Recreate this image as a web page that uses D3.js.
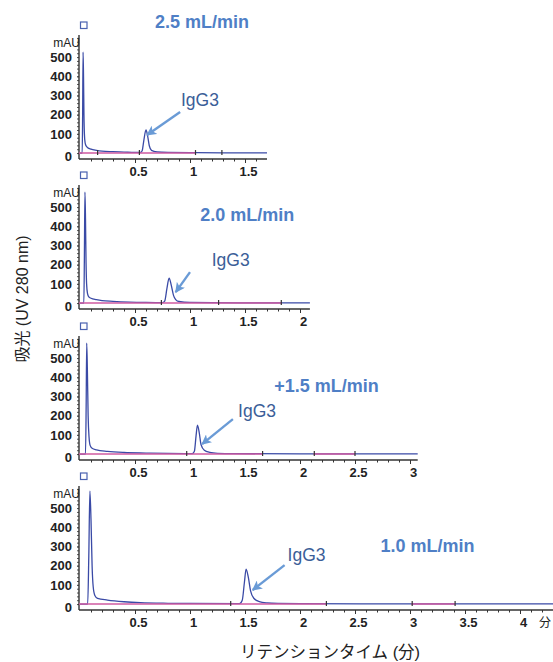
<!DOCTYPE html>
<html>
<head>
<meta charset="utf-8">
<script src="https://cdn.jsdelivr.net/npm/d3@7"></script>
<style>
  body { margin: 0; background: #fff; }
  .tick text { font-family: "Liberation Sans", Arial, sans-serif; font-weight: bold; font-size: 13px; fill: #222; }
</style>
</head>
<body>
<div id="chart"></div>
<script>
// flow rates, one panel each
var flowLabels = ["2.5 mL/min", "2.0 mL/min", "+1.5 mL/min", "1.0 mL/min"];
var xMax = [1.7, 2.09, 3.07, 4.33];
var xTickLabels = [
  ["0.5", "1", "1.5"],
  ["0.5", "1", "1.5", "2"],
  ["0.5", "1", "1.5", "2", "2.5", "3"],
  ["0.5", "1", "1.5", "2", "2.5", "3", "3.5", "4"]
];
var yTicks = [0, 100, 200, 300, 400, 500];

// chromatograms [min, mAU]
var trace25 = [[0,0],[0.02,0],[0.024,200],[0.028,526],[0.032,400],[0.036,200],[0.04,100],[0.046,55],[0.055,38],[0.07,28],[0.1,20],[0.15,14],[0.2,10],[0.3,7],[0.4,5],[0.5,3],[0.55,3],[0.565,12],[0.58,65],[0.6,120],[0.615,88],[0.63,38],[0.65,14],[0.7,6],[0.8,3],[1.0,2],[1.3,1],[1.7,1]];
var trace20 = [[0,0],[0.035,0],[0.04,250],[0.045,578],[0.05,440],[0.055,210],[0.06,100],[0.068,50],[0.08,32],[0.1,25],[0.15,18],[0.2,13],[0.3,9],[0.45,5],[0.6,3],[0.75,2],[0.77,10],[0.79,75],[0.81,130],[0.83,92],[0.85,40],[0.87,18],[0.9,8],[1.0,3],[1.2,2],[1.6,1],[2.09,1]];
var trace15 = [[0,0],[0.05,0],[0.056,250],[0.061,578],[0.067,440],[0.074,200],[0.082,90],[0.092,45],[0.11,30],[0.15,22],[0.25,14],[0.4,8],[0.6,5],[0.8,3],[1.02,2],[1.04,15],[1.055,95],[1.068,151],[1.085,108],[1.1,50],[1.13,20],[1.18,9],[1.25,4],[1.4,2],[2.0,1],[3.07,1]];
var trace10 = [[0,0],[0.07,0],[0.08,250],[0.09,588],[0.1,440],[0.11,200],[0.12,90],[0.135,45],[0.16,30],[0.25,21],[0.4,12],[0.55,7],[0.8,4],[1.0,3],[1.45,2],[1.475,20],[1.495,115],[1.51,182],[1.53,140],[1.55,70],[1.58,30],[1.63,13],[1.7,6],[1.8,3],[2.0,2],[3.0,1],[4.33,1]];
var traces = [trace25, trace20, trace15, trace10];

// integration baselines and marks
var pink25 = [[0, 1.05]];
var pink20 = [[0, 1.83]];
var pink15 = [[0, 1.66], [2.13, 2.5]];
var pink10 = [[0, 2.24], [3.02, 3.41]];
var pinks = [pink25, pink20, pink15, pink10];
var marks = [[0.16, 0.54, 1.05, 1.29], [0.74, 1.26, 1.83], [0.97, 1.66, 2.13, 2.5], [1.37, 2.24, 3.02, 3.41]];

// annotations in data units [min, mAU]
var titlePos = [[1.11, 682], [1.52, 458], [2.24, 354], [3.16, 302]];
var igLabelPos = [[1.09, 276], [1.37, 224], [1.61, 224], [2.06, 255]];
var arrowFrom = [[0.91, 214], [1.0, 161], [1.39, 182], [1.86, 203]];
var arrowTo = [[0.61, 94], [0.87, 57], [1.11, 52], [1.57, 73]];

var W = 553, H = 662;
var axisY = [159, 309, 460, 610];
var x0 = 80, pxPerMin = 110, plotH = 124;
var sans = "Liberation Sans, Arial, sans-serif";
var sansJP = "Liberation Sans, Noto Sans CJK JP, sans-serif";

var svg = d3.select("#chart").append("svg")
  .attr("width", W).attr("height", H);

svg.append("defs").append("marker")
  .attr("id", "arr")
  .attr("viewBox", "0 0 10 10")
  .attr("refX", 9).attr("refY", 5)
  .attr("markerWidth", 4.2).attr("markerHeight", 4.2)
  .attr("markerUnits", "strokeWidth")
  .attr("orient", "auto")
  .append("path")
    .attr("d", "M0,0 L10,5 L0,10 L2.5,5 Z")
    .attr("fill", "#6a9bd6");

traces.forEach(function(data, i) {
  var x = d3.scaleLinear().domain([0, xMax[i]]).range([x0, x0 + pxPerMin * xMax[i]]);
  var y = d3.scaleLinear().domain([-31, 615]).range([axisY[i], axisY[i] - plotH]);
  var g = svg.append("g");

  // x axis
  var maj = d3.range(0.5, xMax[i], 0.5);
  g.append("g")
    .attr("transform", "translate(0," + axisY[i] + ")")
    .call(d3.axisBottom(x).tickValues(d3.range(0.1, xMax[i], 0.1)).tickSize(2.5).tickFormat(""))
    .call(function(a) { a.select(".domain").remove(); a.selectAll("line").attr("stroke", "#333"); });
  g.append("g")
    .attr("transform", "translate(0," + axisY[i] + ")")
    .call(d3.axisBottom(x).tickValues(maj).tickSize(4).tickPadding(4)
      .tickFormat(function(d, k) { return xTickLabels[i][k]; }))
    .call(function(a) {
      a.select(".domain").remove();
      a.selectAll("line").attr("stroke", "#333");
      a.selectAll("text").attr("dx", 3);
    });
  g.append("line")
    .attr("x1", x0 - 1).attr("x2", x.range()[1])
    .attr("y1", axisY[i]).attr("y2", axisY[i])
    .attr("stroke", "#333").attr("stroke-width", 1.6);

  // y axis
  g.append("g")
    .attr("transform", "translate(" + (x0 - 1) + ",0)")
    .call(d3.axisLeft(y).tickValues(d3.range(0, 620, 20)).tickSize(2).tickFormat(""))
    .call(function(a) { a.select(".domain").remove(); a.selectAll("line").attr("stroke", "#555"); });
  g.append("g")
    .attr("transform", "translate(" + (x0 - 1) + ",0)")
    .call(d3.axisLeft(y).tickValues(yTicks).tickSize(2).tickPadding(5))
    .call(function(a) {
      a.select(".domain").remove();
      a.selectAll("line").attr("stroke", "#555");
      a.selectAll("text").filter(function(d) { return d === 0; }).attr("dy", "0.6em");
    });
  g.append("line")
    .attr("x1", x0 - 1).attr("x2", x0 - 1)
    .attr("y1", axisY[i] - plotH).attr("y2", axisY[i])
    .attr("stroke", "#333").attr("stroke-width", 1.4);
  g.append("text")
    .attr("x", x0).attr("y", y(572))
    .attr("text-anchor", "end").attr("dy", "0.35em")
    .style("font-family", sans)
    .style("font-size", "12px").style("fill", "#222")
    .text("mAU");

  // top marker square
  g.append("rect")
    .attr("x", x0 + 0.5).attr("y", axisY[i] - plotH - 13)
    .attr("width", 6.5).attr("height", 6.5)
    .attr("fill", "none").attr("stroke", "#4a62b0").attr("stroke-width", 1.2);

  // trace
  g.append("path")
    .datum(data)
    .attr("d", d3.line().x(function(d) { return x(d[0]); }).y(function(d) { return y(d[1]); }).curve(d3.curveMonotoneX))
    .attr("fill", "none").attr("stroke", "#3a4aa6").attr("stroke-width", 1.3);

  // integration baselines
  g.selectAll(".pink").data(pinks[i]).enter().append("line")
    .attr("x1", function(d) { return x(d[0]) - 1; }).attr("x2", function(d) { return x(d[1]); })
    .attr("y1", y(0)).attr("y2", y(0))
    .attr("stroke", "#cf5aa0").attr("stroke-width", 1.5);
  g.selectAll(".mark").data(marks[i]).enter().append("line")
    .attr("x1", function(d) { return x(d); }).attr("x2", function(d) { return x(d); })
    .attr("y1", y(0) - 3).attr("y2", y(0) + 2)
    .attr("stroke", "#333").attr("stroke-width", 1.2);

  // annotations
  g.append("text")
    .attr("x", x(titlePos[i][0])).attr("y", y(titlePos[i][1]))
    .attr("text-anchor", "middle").attr("dy", "0.35em")
    .style("font-family", sans)
    .style("font-weight", "bold").style("font-size", "18px")
    .style("fill", "#4f7fc6")
    .text(flowLabels[i]);
  g.append("text")
    .attr("x", x(igLabelPos[i][0])).attr("y", y(igLabelPos[i][1]))
    .attr("text-anchor", "middle").attr("dy", "0.35em")
    .style("font-family", sans)
    .style("font-size", "17.5px")
    .style("fill", "#3b5e98")
    .text("IgG3");
  g.append("line")
    .attr("x1", x(arrowFrom[i][0])).attr("y1", y(arrowFrom[i][1]))
    .attr("x2", x(arrowTo[i][0])).attr("y2", y(arrowTo[i][1]))
    .attr("stroke", "#6a9bd6").attr("stroke-width", 2.4)
    .attr("marker-end", "url(#arr)");

  if (i === 3) {
    g.append("text")
      .attr("x", 539).attr("y", axisY[i] + 8)
      .attr("dy", "0.71em")
      .style("font-family", "Noto Sans CJK JP, sans-serif")
      .style("font-size", "12px").style("fill", "#222")
      .text("分");
  }
});

// axis titles
svg.append("text")
  .attr("x", 330).attr("y", 652)
  .attr("text-anchor", "middle").attr("dy", "0.35em")
  .style("font-family", sansJP)
  .style("font-size", "16.5px").style("fill", "#222")
  .text("リテンションタイム (分)");
svg.append("text")
  .attr("transform", "translate(22,299) rotate(-90)")
  .attr("text-anchor", "middle").attr("dy", "0.35em")
  .style("font-family", sansJP)
  .style("font-size", "16px").style("fill", "#222")
  .text("吸光 (UV 280 nm)");
</script>
</body>
</html>
